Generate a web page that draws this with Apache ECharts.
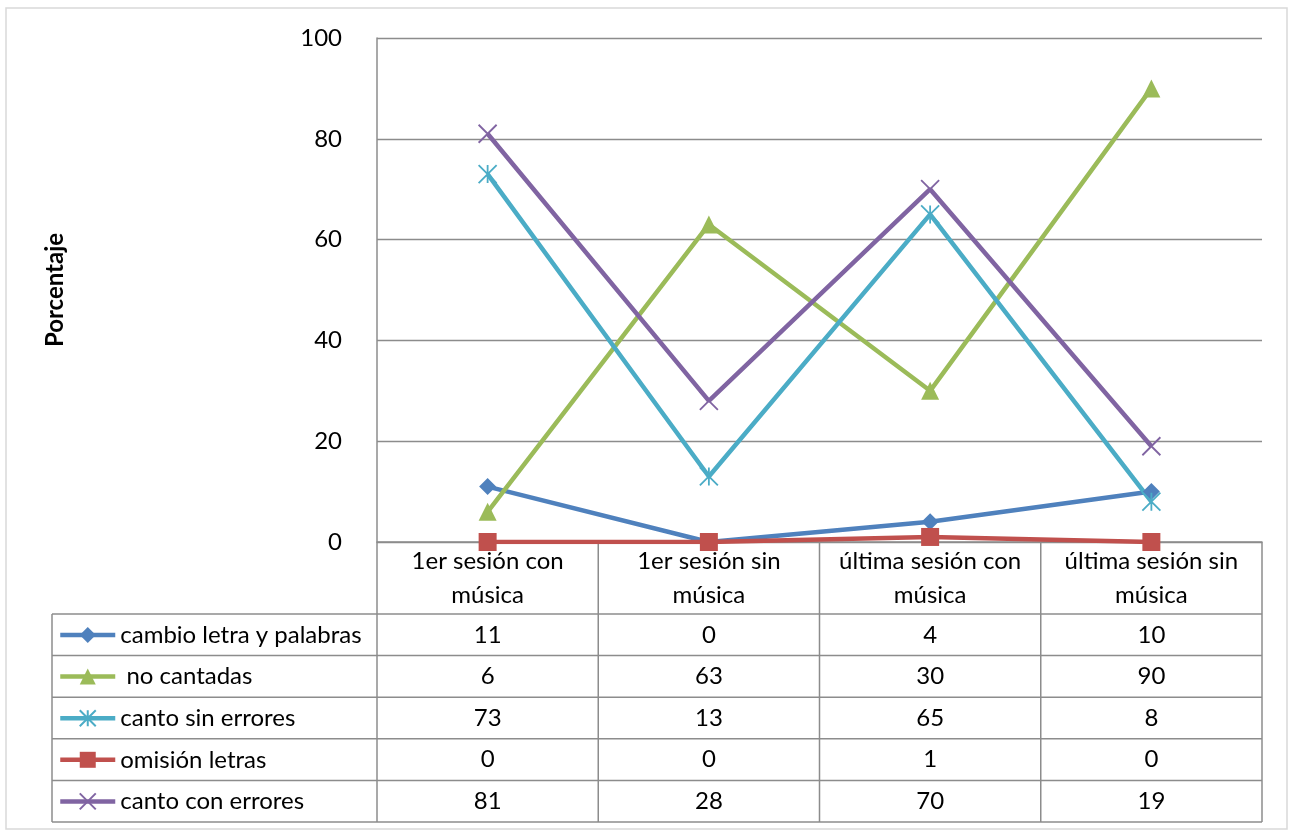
<!DOCTYPE html>
<html><head><meta charset="utf-8">
<script src="https://cdn.jsdelivr.net/npm/echarts@6/dist/echarts.min.js"></script>
<style>html,body{margin:0;padding:0;background:#fff}#c{width:1293px;height:832px}</style>
</head><body><div id="c"></div>
<script>
const categories = ['1er sesión con música', '1er sesión sin música', 'última sesión con música', 'última sesión sin música'];
const seriesNames = ['cambio letra y palabras', ' no cantadas', 'canto sin errores', 'omisión letras', 'canto con errores'];
const cambioLetra = [11, 0, 4, 10];
const noCantadas = [6, 63, 30, 90];
const cantoSinErrores = [73, 13, 65, 8];
const omisionLetras = [0, 0, 1, 0];
const cantoConErrores = [81, 28, 70, 19];
const yTicks = { min: 0, max: 100, interval: 20 };
const yTitle = 'Porcentaje';

const FONT = 'Lato';
const FS = 24;
const colors = ['#4F81BD', '#9BBB59', '#4BACC6', '#C0504D', '#8064A2'];
const values = [cambioLetra, noCantadas, cantoSinErrores, omisionLetras, cantoConErrores];
const symbols = [
  { symbol: 'diamond', size: 17, stroke: false },
  { symbol: 'triangle', size: 18, stroke: false },
  { symbol: 'path://M5 0L5 10M0 0L10 10M10 0L0 10', size: 18, stroke: true },
  { symbol: 'rect', size: 18, stroke: false },
  { symbol: 'path://M0 0L10 10M10 0L0 10', size: 18, stroke: true }
];

const GRID = { left: 377, top: 38, right: 31, bottom: 290 };
const HEADER_H = 72;
const ROW_H = 41.6;
const TABLE_LEFT = 52;
const LINE_C = '#8c8c8c';

const chart = echarts.init(document.getElementById('c'));
const series = seriesNames.map((n, i) => ({
  name: n,
  type: 'line',
  data: values[i],
  symbol: symbols[i].symbol,
  symbolSize: symbols[i].size,
  lineStyle: { color: colors[i], width: 4.5 },
  itemStyle: symbols[i].stroke
    ? { color: colors[i], borderColor: colors[i], borderWidth: 1.8 }
    : { color: colors[i] },
  emphasis: { disabled: true },
  animation: false
}));

chart.setOption({
  animation: false,
  textStyle: { fontFamily: FONT },
  grid: { left: GRID.left, top: GRID.top, right: GRID.right, bottom: GRID.bottom },
  legend: {
    orient: 'vertical',
    left: 58,
    top: 623,
    padding: 0,
    itemWidth: 55,
    itemHeight: 20,
    itemGap: ROW_H - 24,
    selectedMode: false,
    lineStyle: { width: 4.5 },
    textStyle: { fontFamily: FONT, fontSize: FS, color: '#000', lineHeight: 24 },
    data: seriesNames
  },
  xAxis: {
    type: 'category',
    data: categories,
    axisLine: { show: true, lineStyle: { color: LINE_C, width: 1.5 } },
    axisTick: { show: false },
    axisLabel: {
      interval: 0,
      hideOverlap: false,
      margin: 2,
      fontFamily: FONT, fontSize: FS, color: '#000', lineHeight: 34,
      formatter: (v) => { const k = v.lastIndexOf(' '); return v.slice(0, k) + '\n' + v.slice(k + 1); }
    }
  },
  yAxis: {
    type: 'value',
    min: yTicks.min, max: yTicks.max, interval: yTicks.interval,
    name: yTitle,
    nameLocation: 'middle',
    nameRotate: 90,
    nameGap: 310,
    nameTextStyle: { fontFamily: FONT, fontSize: FS, fontWeight: 'bold', color: '#000' },
    axisLine: { show: true, lineStyle: { color: LINE_C, width: 1.5 } },
    axisTick: { show: false },
    splitLine: { lineStyle: { color: LINE_C, width: 1.3 } },
    axisLabel: { margin: 35, fontFamily: FONT, fontSize: FS, color: '#000' }
  },
  series: series
});

// Build data table from the axis scales
const centers = categories.map(c => chart.convertToPixel({ xAxisIndex: 0 }, c));
const step = centers.length > 1 ? centers[1] - centers[0] : 200;
const xLeft = centers[0] - step / 2;
const xRight = centers[centers.length - 1] + step / 2;
const yAxisPx = chart.convertToPixel({ yAxisIndex: 0 }, yTicks.min);
const hdrBottom = yAxisPx + HEADER_H;
const tableBottom = hdrBottom + ROW_H * seriesNames.length;

const g = [];
g.push({ type: 'rect', shape: { x: 6, y: 8, width: 1281, height: 821 }, style: { fill: 'none', stroke: '#d9d9d9', lineWidth: 1.5 }, z: -1 });
for (let r = 0; r <= seriesNames.length; r++) {
  const y = hdrBottom + r * ROW_H;
  g.push({ type: 'line', shape: { x1: TABLE_LEFT, y1: y, x2: xRight, y2: y }, style: { stroke: LINE_C, lineWidth: 1.5 } });
}
g.push({ type: 'line', shape: { x1: TABLE_LEFT, y1: hdrBottom, x2: TABLE_LEFT, y2: tableBottom }, style: { stroke: LINE_C, lineWidth: 1.5 } });
for (let c = 0; c <= categories.length; c++) {
  const x = xLeft + c * step;
  g.push({ type: 'line', shape: { x1: x, y1: yAxisPx, x2: x, y2: tableBottom }, style: { stroke: LINE_C, lineWidth: 1.5 } });
}
values.forEach((arr, r) => {
  arr.forEach((v, c) => {
    g.push({
      type: 'text',
      x: centers[c], y: hdrBottom + r * ROW_H + ROW_H / 2,
      style: { text: String(v), fontFamily: FONT, fontSize: FS, fill: '#000', align: 'center', verticalAlign: 'middle' }
    });
  });
});
chart.setOption({ graphic: g });
</script></body></html>
